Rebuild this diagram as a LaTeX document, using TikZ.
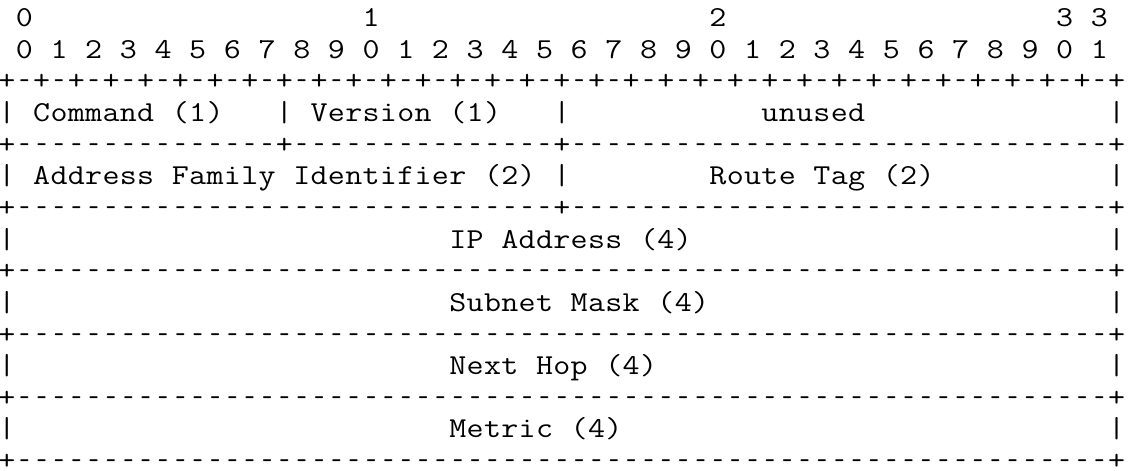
\documentclass[tikz,border=0pt]{standalone}
\usepackage{graphicx}
\newdimen\rfcw \rfcw=17.34pt
\def\rfcend{rfcend}
\def\rfcrep#1#2{\ifnum#1>0 #2\expandafter\rfcrep\expandafter{\the\numexpr#1-1\relax}{#2}\fi}
\def\rfcline#1{\edef\rfctmp{#1}\expandafter\rfcloop\rfctmp\rfcend}
\def\rfcloop#1{\ifx#1\rfcend\else\rfcchar#1\expandafter\rfcloop\fi}
\def\rfcchar#1{\hbox to\rfcw{\hss\ifx.#1\else\ifx-#1\scalebox{0.68}[1]{-}\else\scalebox{1.143}[1]{#1}\fi\fi\hss}}
\begin{document}
\begin{tikzpicture}[x=1pt,y=1pt,
  rfcrow/.style={anchor=base west, inner sep=0pt, outer sep=0pt,
    font=\fontsize{28.9pt}{30pt}\selectfont\ttfamily, text=black}]
\fill[white] (0,0) rectangle (1136,-471);
\useasboundingbox (0,0) rectangle (1136,-471);
\def\xo{-1.67}
\node[rfcrow] (r0)  at (\xo,-26.5)  {\rfcline{.0\rfcrep{19}{.}1\rfcrep{19}{.}2\rfcrep{19}{.}3.3}};
\node[rfcrow] (r1)  at (\xo,-58.15) {\rfcline{.0.1.2.3.4.5.6.7.8.9.0.1.2.3.4.5.6.7.8.9.0.1.2.3.4.5.6.7.8.9.0.1}};
\node[rfcrow] (r2)  at (\xo,-89.8)  {\rfcline{\rfcrep{32}{+-}+}};
\node[rfcrow] (r3)  at (\xo,-121.45){\rfcline{|.Command.(1)...|.Version.(1)...|\rfcrep{11}{.}unused\rfcrep{14}{.}|}};
\node[rfcrow] (r4)  at (\xo,-153.1) {\rfcline{+\rfcrep{15}{-}+\rfcrep{15}{-}+\rfcrep{31}{-}+}};
\node[rfcrow] (r5)  at (\xo,-184.75){\rfcline{|.Address.Family.Identifier.(2).|\rfcrep{8}{.}Route.Tag.(2)\rfcrep{10}{.}|}};
\node[rfcrow] (r6)  at (\xo,-216.4) {\rfcline{+\rfcrep{31}{-}+\rfcrep{31}{-}+}};
\node[rfcrow] (r7)  at (\xo,-248.05){\rfcline{|\rfcrep{25}{.}IP.Address.(4)\rfcrep{24}{.}|}};
\node[rfcrow] (r8)  at (\xo,-279.7) {\rfcline{+\rfcrep{63}{-}+}};
\node[rfcrow] (r9)  at (\xo,-311.35){\rfcline{|\rfcrep{25}{.}Subnet.Mask.(4)\rfcrep{23}{.}|}};
\node[rfcrow] (r10) at (\xo,-343.0) {\rfcline{+\rfcrep{63}{-}+}};
\node[rfcrow] (r11) at (\xo,-374.65){\rfcline{|\rfcrep{25}{.}Next.Hop.(4)\rfcrep{26}{.}|}};
\node[rfcrow] (r12) at (\xo,-406.3) {\rfcline{+\rfcrep{63}{-}+}};
\node[rfcrow] (r13) at (\xo,-437.95){\rfcline{|\rfcrep{25}{.}Metric.(4)\rfcrep{28}{.}|}};
\node[rfcrow] (r14) at (\xo,-469.0) {\rfcline{+\rfcrep{63}{-}+}};
\end{tikzpicture}
\end{document}
